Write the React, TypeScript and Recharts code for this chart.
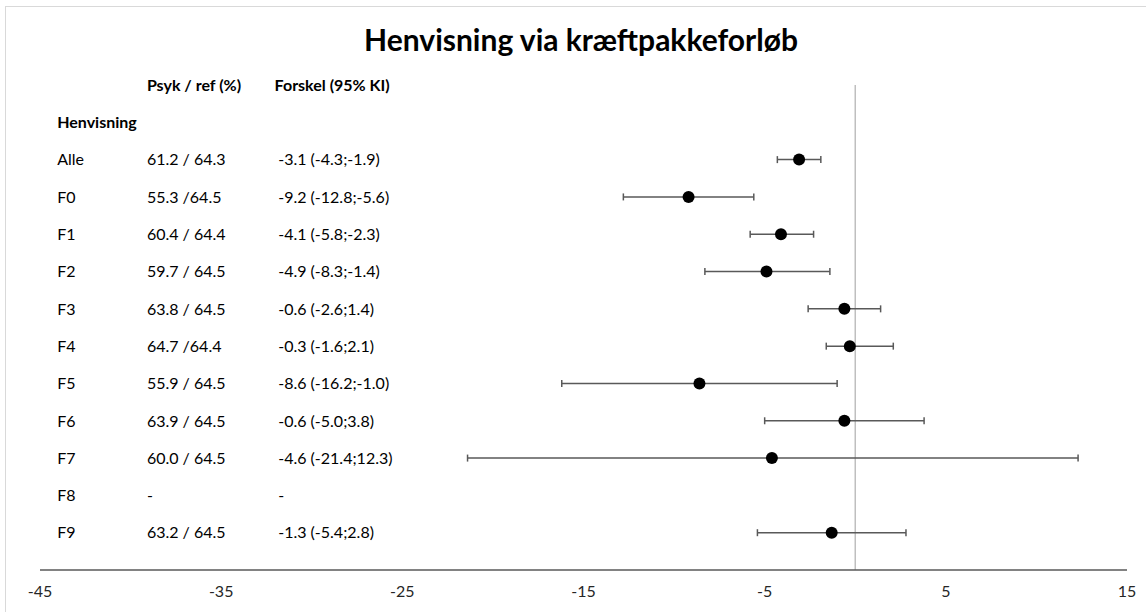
import React from 'react';
import { ScatterChart, Scatter, XAxis, YAxis, ErrorBar, ReferenceLine } from 'recharts';

// Rows top to bottom
const groups = ['Alle', 'F0', 'F1', 'F2', 'F3', 'F4', 'F5', 'F6', 'F7', 'F8', 'F9'];
const psykRef = ['61.2 / 64.3', '55.3 /64.5', '60.4 / 64.4', '59.7 / 64.5', '63.8 / 64.5', '64.7 /64.4', '55.9 / 64.5', '63.9 / 64.5', '60.0 / 64.5', '-', '63.2 / 64.5'];
const forskel = ['-3.1 (-4.3;-1.9)', '-9.2 (-12.8;-5.6)', '-4.1 (-5.8;-2.3)', '-4.9 (-8.3;-1.4)', '-0.6 (-2.6;1.4)', '-0.3 (-1.6;2.1)', '-8.6 (-16.2;-1.0)', '-0.6 (-5.0;3.8)', '-4.6 (-21.4;12.3)', '-', '-1.3 (-5.4;2.8)'];
const estimate = [-3.1, -9.2, -4.1, -4.9, -0.6, -0.3, -8.6, -0.6, -4.6, null, -1.3];
const lower = [-4.3, -12.8, -5.8, -8.3, -2.6, -1.6, -16.2, -5.0, -21.4, null, -5.4];
const upper = [-1.9, -5.6, -2.3, -1.4, 1.4, 2.1, -1.0, 3.8, 12.3, null, 2.8];
const xTicks = [-45, -35, -25, -15, -5, 5, 15];

// column positions in axis units
const COL_GROUP = -44.05;
const COL_PSYK = -39.1;
const COL_DIFF = -31.85;
const COL_DIFF_HEAD = -32.05;

const FONT = 'Lato, "Open Sans", sans-serif';

const rowY = (i: number) => groups.length - i;

const points = groups
  .map((g, i) => ({
    x: estimate[i],
    y: rowY(i),
    err: estimate[i] == null ? null : [estimate[i]! - lower[i]!, upper[i]! - estimate[i]!],
  }))
  .filter(d => d.x != null);

const textRows = [
  { x: COL_PSYK, y: 13, text: 'Psyk / ref (%)', bold: true },
  { x: COL_DIFF_HEAD, y: 13, text: 'Forskel (95% KI)', bold: true },
  { x: COL_GROUP, y: 12, text: 'Henvisning', bold: true },
  ...groups.map((g, i) => ({ x: COL_GROUP, y: rowY(i), text: g, bold: false })),
  ...psykRef.map((t, i) => ({ x: COL_PSYK, y: rowY(i), text: t, bold: false })),
  ...forskel.map((t, i) => ({ x: COL_DIFF, y: rowY(i), text: t, bold: false })),
];

const TextShape = (props: any) => (
  <text
    x={props.cx}
    y={props.cy}
    dy="0.36em"
    fontSize={16}
    fontFamily={FONT}
    fontWeight={props.payload.bold ? 700 : 400}
    fill="#000"
  >
    {props.payload.text}
  </text>
);

const Dot = (props: any) => <circle cx={props.cx} cy={props.cy} r={6} fill="#000" />;

const App: React.FC = () => {
  return (
    <div style={{ position: 'absolute', left: 0, top: 0, width: 1146, height: 612, background: '#fff', overflow: 'hidden' }}>
      <div style={{ position: 'absolute', left: 5, top: 6, width: 1200, height: 700, border: '1px solid #d9d9d9' }} />
      <div
        style={{
          position: 'absolute', left: 0, top: 21, width: 1162, textAlign: 'center',
          fontFamily: FONT, fontWeight: 700, fontSize: 30, color: '#000',
        }}
      >
        Henvisning via kræftpakkeforløb
      </div>
      <div style={{ position: 'absolute', left: 0, top: 0 }}>
        <ScatterChart width={1146} height={612} margin={{ top: 85, right: 19, bottom: 12, left: 40 }}>
          <XAxis
            type="number"
            dataKey="x"
            domain={[-45, 15]}
            ticks={xTicks}
            allowDataOverflow
            tickLine={false}
            axisLine={{ stroke: '#595959', strokeWidth: 1.5 }}
            tick={{ fontSize: 16, fill: '#262626', fontFamily: FONT }}
            tickMargin={10}
            height={30}
          />
          <YAxis type="number" dataKey="y" domain={[0, 13]} hide />
          <ReferenceLine x={0} stroke="#bfbfbf" strokeWidth={1.5} />
          <Scatter data={textRows} shape={TextShape} isAnimationActive={false} />
          <Scatter data={points} shape={Dot} isAnimationActive={false}>
            <ErrorBar dataKey="err" direction="x" width={3.5} stroke="#595959" strokeWidth={1.5} />
          </Scatter>
        </ScatterChart>
      </div>
    </div>
  );
};

export default App;
